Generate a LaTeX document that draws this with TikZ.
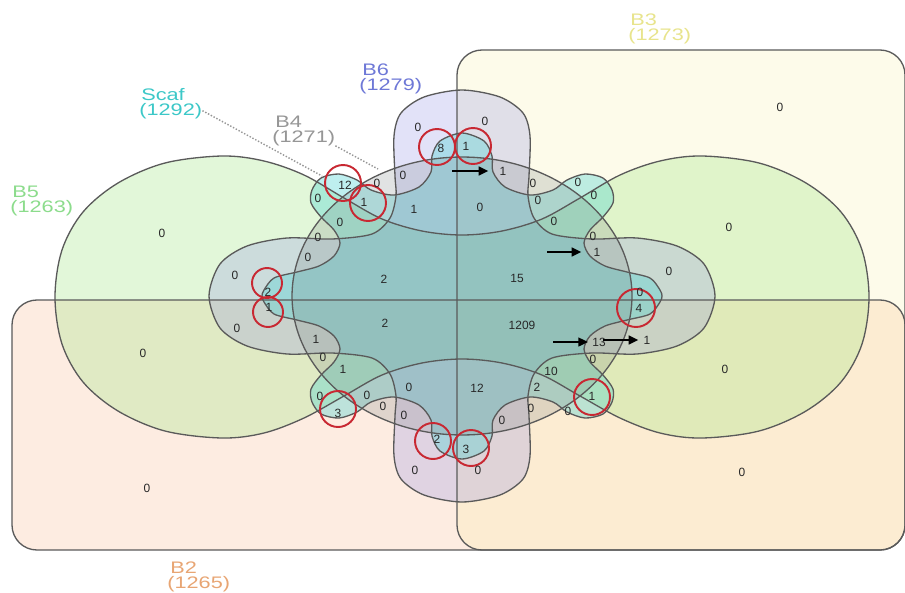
\documentclass[tikz,border=0pt]{standalone}
\usepackage{fontspec}
\setmainfont{Liberation Sans}
\usetikzlibrary{arrows.meta}
\definecolor{lc}{RGB}{90,90,90}
\definecolor{cBtwo}{RGB}{250,170,120}
\definecolor{cBthree}{RGB}{250,240,160}
\definecolor{cBfive}{RGB}{160,230,130}
\definecolor{cBsix}{RGB}{140,140,230}
\definecolor{cScaf}{RGB}{70,210,210}
\definecolor{cBfour}{RGB}{120,130,130}
\definecolor{redc}{RGB}{200,40,50}
\definecolor{tBtwo}{RGB}{232,165,115}
\definecolor{tBthree}{RGB}{232,228,140}
\definecolor{tBfive}{RGB}{140,220,140}
\definecolor{tBsix}{RGB}{110,120,215}
\definecolor{tScaf}{RGB}{60,200,200}
\definecolor{tBfour}{RGB}{150,150,150}
\definecolor{numc}{RGB}{40,40,40}
\tikzset{
  num/.style={font=\fontsize{6.8}{7}\selectfont, text=numc, inner sep=0pt},
  setlab/.style={font=\fontsize{9.5}{9}\selectfont, inner sep=0pt, anchor=base west},
  outline/.style={draw=lc, line width=0.75pt},
  redring/.style={draw=redc, line width=1.1pt},
  arr/.style={draw=black, line width=1.1pt, -{Triangle[length=5.5pt,width=5pt]}},
  lead/.style={draw=tBfour, line width=0.8pt, densely dotted}
}
\begin{document}
\begin{tikzpicture}[x=0.02cm,y=-0.02cm]
\useasboundingbox (0,0) rectangle (905,592);
\fill[white] (0,0) rectangle (905,592);
% ---- fills ----
\path[save path=\svBtwo, fill=cBtwo, fill opacity=.22, rounded corners=0.5cm] (12,300) rectangle (905,550);
\path[save path=\svBthree, fill=cBthree, fill opacity=.22, rounded corners=0.5cm] (457,50) rectangle (905,550);
\path[save path=\svBfive, fill=cBfive, fill opacity=.3] plot[smooth cycle, tension=.55] coordinates {
(462,235) (502,231) (542,219) (580,198) (620,175) (660,161) (702,156) (759,163) (806,183) (841,212) (862,250) (869,297) (862,344) (841,382) (806,411) (759,431) (702,438) (660,433) (620,418) (580,396) (542,375) (502,363) (462,359) (422,363) (382,375) (344,396) (304,418) (264,433) (222,438) (165,431) (118,411) (83,382) (62,344) (55,297) (62,250) (83,212) (118,183) (165,163) (222,156) (264,161) (304,175) (344,198) (382,219) (422,231)};
\path[save path=\svBsix, fill=cBsix, fill opacity=.25] plot[smooth cycle, tension=.5] coordinates {
(462,90) (500,97) (523,113) (530,136) (529,176) (528,196) (534,218) (552,234) (592,239) (637,238) (677,246) (704,264) (715,296) (704,328) (677,346) (637,354) (592,353) (552,358) (534,374) (528,396) (529,416) (530,456) (523,479) (500,495) (462,502) (424,495) (401,479) (394,456) (395,416) (396,396) (390,374) (372,358) (332,353) (287,354) (247,346) (220,328) (209,296) (220,264) (247,246) (287,238) (332,239) (372,234) (390,218) (396,196) (395,176) (394,136) (401,113) (424,97)};
\path[save path=\svScaf, fill=cScaf, fill opacity=.35] plot[smooth cycle, tension=.5] coordinates {
(462,133) (484,141) (492,156) (493,172) (505,187) (530,195) (553,190) (567,180) (585,174) (603,178) (612,190) (613,203) (603,217) (590,230) (584,243) (590,256) (605,266) (627,272) (650,278) (660,290) (662,296)
(660,302) (650,314) (627,320) (605,326) (590,336) (584,349) (590,362) (603,375) (613,389) (612,402) (603,414) (585,418) (567,412) (553,402) (530,397) (505,405) (493,420) (492,436) (484,451) (462,459)
(440,451) (432,436) (431,420) (419,405) (394,397) (371,402) (357,412) (339,418) (321,414) (312,402) (311,389) (321,375) (334,362) (340,349) (334,336) (319,326) (297,320) (274,314) (264,302) (262,296)
(264,290) (274,278) (297,272) (319,266) (334,256) (340,243) (334,230) (321,217) (311,203) (312,190) (321,178) (339,174) (357,180) (371,190) (394,195) (419,187) (431,172) (432,156) (440,141)};
\path[save path=\svBfour, fill=cBfour, fill opacity=.22] (462,296) ellipse [x radius=3.4cm, y radius=2.78cm];
% ---- outlines ----
\draw[outline, use path=\svBtwo];
\draw[outline, use path=\svBthree];
\draw[outline, use path=\svBfive];
\draw[outline, use path=\svBsix];
\draw[outline, use path=\svScaf];
\draw[outline, use path=\svBfour];
% ---- red circles ----
\draw[redring] (437,147) circle[radius=0.36cm];
\draw[redring] (473,146) circle[radius=0.36cm];
\draw[redring] (343,183) circle[radius=0.36cm];
\draw[redring] (368,203) circle[radius=0.36cm];
\draw[redring] (267,283) circle[radius=0.3cm];
\draw[redring] (268,312) circle[radius=0.3cm];
\draw[redring] (636,308) circle[radius=0.38cm];
\draw[redring] (592,397) circle[radius=0.36cm];
\draw[redring] (433,441) circle[radius=0.36cm];
\draw[redring] (471,448) circle[radius=0.36cm];
\draw[redring] (338,409) circle[radius=0.36cm];
% ---- numbers ----
\node[num] (n01) at (418,127) {0};
\node[num] (n02) at (485,121) {0};
\node[num] (n03) at (441,148) {8};
\node[num] (n04) at (466,146) {1};
\node[num] (n05) at (403,175) {0};
\node[num] (n06) at (503,171) {1};
\node[num] (n07) at (377,183) {0};
\node[num] (n08) at (345,185) {12};
\node[num] (n09) at (364,202) {1};
\node[num] (n10) at (318,198) {0};
\node[num] (n11) at (414,209) {1};
\node[num] (n12) at (480,207) {0};
\node[num] (n13) at (340,222) {0};
\node[num] (n14) at (318,237) {0};
\node[num] (n15) at (308,257) {0};
\node[num] (n16) at (533,183) {0};
\node[num] (n17) at (538,200) {0};
\node[num] (n18) at (554,221) {0};
\node[num] (n19) at (578,182) {0};
\node[num] (n20) at (594,195) {0};
\node[num] (n21) at (593,236) {0};
\node[num] (n22) at (597,252) {1};
\node[num] (n23) at (669,271) {0};
\node[num] (n24) at (640,292) {0};
\node[num] (n25) at (639,308) {4};
\node[num] (n26) at (780,107) {0};
\node[num] (n27) at (729,227) {0};
\node[num] (n28) at (517,278) {15};
\node[num] (n29) at (162,233) {0};
\node[num] (n30) at (384,279) {2};
\node[num] (n31) at (235,275) {0};
\node[num] (n32) at (268,292) {2};
\node[num] (n33) at (269,307) {1};
\node[num] (n34) at (237,328) {0};
\node[num] (n35) at (143,353) {0};
\node[num] (n36) at (385,323) {2};
\node[num] (n37) at (316,339) {1};
\node[num] (n38) at (323,357) {0};
\node[num] (n39) at (343,369) {1};
\node[num] (n40) at (320,396) {0};
\node[num] (n41) at (338,413) {3};
\node[num] (n42) at (367,395) {0};
\node[num] (n43) at (383,406) {0};
\node[num] (n44) at (404,415) {0};
\node[num] (n45) at (409,387) {0};
\node[num] (n46) at (437,439) {2};
\node[num] (n47) at (415,470) {0};
\node[num] (n48) at (147,488) {0};
\node[num] (n49) at (466,449) {3};
\node[num] (n50) at (478,470) {0};
\node[num] (n51) at (477,388) {12};
\node[num] (n52) at (502,420) {0};
\node[num] (n53) at (531,408) {0};
\node[num] (n54) at (537,387) {2};
\node[num] (n55) at (551,371) {10};
\node[num] (n56) at (568,411) {0};
\node[num] (n57) at (592,396) {1};
\node[num] (n58) at (593,359) {0};
\node[num] (n59) at (599,342) {13};
\node[num] (n60) at (647,340) {1};
\node[num] (n61) at (522,325) {1209};
\node[num] (n62) at (725,369) {0};
\node[num] (n63) at (742,472) {0};
% ---- arrows ----
\coordinate (ta) at (452,171);
\coordinate (tb) at (547,252);
\coordinate (tc) at (553,342);
\coordinate (td) at (603,340);
\draw[arr, shorten >=2.2mm] (ta) -- (n06.west);
\draw[arr, shorten >=2.4mm] (tb) -- (n22.west);
\draw[arr, shorten >=0.8mm] (tc) -- (n59.west);
\draw[arr, shorten >=1mm] (td) -- (n60.west);
% ---- set labels ----
\node[setlab, text=tScaf] (lScafa) at (141,100) {\scalebox{1.3}[1]{Scaf}};
\node[setlab, text=tScaf] (lScafb) at (139,115) {\scalebox{1.3}[1]{(1292)}};
\node[setlab, text=tBfour] (lBfoura) at (275,127) {\scalebox{1.3}[1]{B4}};
\node[setlab, text=tBfour] (lBfourb) at (272,142) {\scalebox{1.3}[1]{(1271)}};
\node[setlab, text=tBsix] (lBsixa) at (362,75) {\scalebox{1.3}[1]{B6}};
\node[setlab, text=tBsix] (lBsixb) at (359,90) {\scalebox{1.3}[1]{(1279)}};
\node[setlab, text=tBfive] (lBfivea) at (12,197) {\scalebox{1.3}[1]{B5}};
\node[setlab, text=tBfive] (lBfiveb) at (10,212) {\scalebox{1.3}[1]{(1263)}};
\node[setlab, text=tBthree] (lBthreea) at (630,25) {\scalebox{1.3}[1]{B3}};
\node[setlab, text=tBthree] (lBthreeb) at (628,40) {\scalebox{1.3}[1]{(1273)}};
\node[setlab, text=tBtwo] (lBtwoa) at (170,573) {\scalebox{1.3}[1]{B2}};
\node[setlab, text=tBtwo] (lBtwob) at (167,588) {\scalebox{1.3}[1]{(1265)}};
% ---- leader lines ----
\coordinate (ls) at (322,176);
\coordinate (lf) at (378,169);
\draw[lead] (lScafb.east) -- (ls);
\draw[lead] (lBfourb.south east) -- (lf);
\end{tikzpicture}
\end{document}
